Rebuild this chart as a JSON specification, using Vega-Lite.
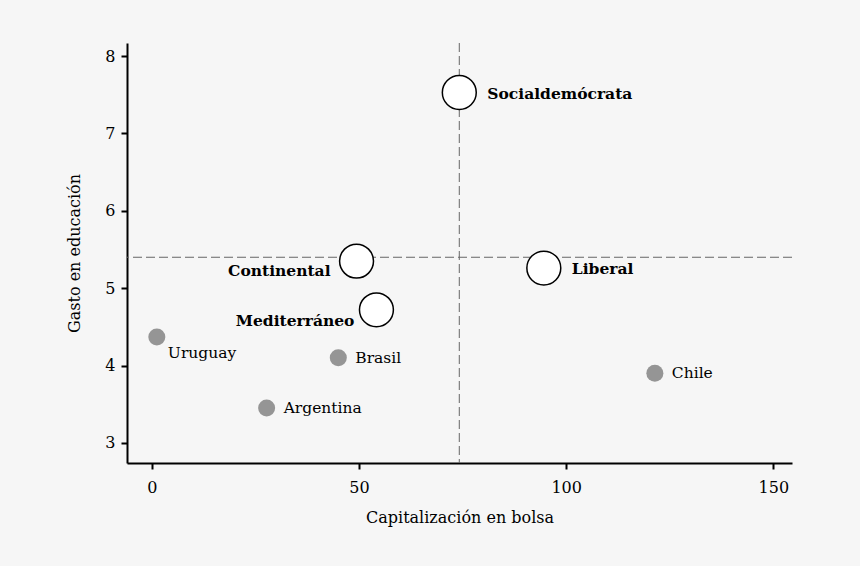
{
  "$schema": "https://vega.github.io/schema/vega-lite/v6.json",
  "width": 665,
  "height": 420,
  "autosize": {"type": "none"},
  "padding": {"left": 127, "top": 43, "right": 68, "bottom": 103},
  "background": "#f6f6f6",
  "config": {
    "view": {"stroke": null},
    "font": "DejaVu Serif",
    "axis": {
      "domainColor": "#000000",
      "domainWidth": 2,
      "tickColor": "#000000",
      "tickWidth": 2,
      "tickSize": 6,
      "grid": false,
      "labelFont": "DejaVu Serif",
      "labelFontSize": 16,
      "labelColor": "#000000",
      "titleFont": "DejaVu Serif",
      "titleFontSize": 16,
      "titleFontWeight": "normal",
      "titleColor": "#000000"
    }
  },
  "data": {
    "values": [
      {"nombre": "Socialdemócrata", "tipo": "régimen", "capitalizacion": 74.2, "gasto": 7.53},
      {"nombre": "Continental", "tipo": "régimen", "capitalizacion": 49.4, "gasto": 5.35},
      {"nombre": "Liberal", "tipo": "régimen", "capitalizacion": 94.6, "gasto": 5.26},
      {"nombre": "Mediterráneo", "tipo": "régimen", "capitalizacion": 54.2, "gasto": 4.72},
      {"nombre": "Uruguay", "tipo": "país", "capitalizacion": 1.2, "gasto": 4.37},
      {"nombre": "Brasil", "tipo": "país", "capitalizacion": 45.0, "gasto": 4.10},
      {"nombre": "Argentina", "tipo": "país", "capitalizacion": 27.7, "gasto": 3.45},
      {"nombre": "Chile", "tipo": "país", "capitalizacion": 121.4, "gasto": 3.90}
    ]
  },
  "encoding": {
    "x": {
      "field": "capitalizacion",
      "type": "quantitative",
      "scale": {"domain": [-6, 154.5], "nice": false, "zero": false},
      "axis": {"values": [0, 50, 100, 150], "title": "Capitalización en bolsa", "titlePadding": 14, "labelPadding": 10}
    },
    "y": {
      "field": "gasto",
      "type": "quantitative",
      "scale": {"domain": [2.74, 8.17], "nice": false, "zero": false},
      "axis": {"values": [3, 4, 5, 6, 7, 8], "title": "Gasto en educación", "titlePadding": 22, "labelPadding": 6}
    }
  },
  "layer": [
    {
      "data": {"values": [{"umbral": 74.2}]},
      "mark": {"type": "rule", "color": "#666666", "strokeWidth": 1, "strokeDash": [9, 4]},
      "encoding": {"x": {"field": "umbral", "type": "quantitative"}, "y": null}
    },
    {
      "data": {"values": [{"umbral": 5.40}]},
      "mark": {"type": "rule", "color": "#666666", "strokeWidth": 1, "strokeDash": [9, 4]},
      "encoding": {"y": {"field": "umbral", "type": "quantitative"}, "x": null}
    },
    {
      "transform": [{"filter": "datum.tipo === 'país'"}],
      "mark": {"type": "circle", "size": 290, "color": "#959595", "opacity": 1}
    },
    {
      "transform": [{"filter": "datum.tipo === 'régimen'"}],
      "mark": {"type": "point", "shape": "circle", "size": 1150, "filled": true, "fill": "#ffffff", "stroke": "#000000", "strokeWidth": 1.5, "opacity": 1}
    },
    {
      "transform": [{"filter": "datum.nombre === 'Socialdemócrata' || datum.nombre === 'Liberal'"}],
      "mark": {"type": "text", "align": "left", "baseline": "middle", "dx": 28, "dy": 1, "fontWeight": "bold", "fontSize": 15.5, "color": "#000000"},
      "encoding": {"text": {"field": "nombre"}}
    },
    {
      "transform": [{"filter": "datum.nombre === 'Continental'"}],
      "mark": {"type": "text", "align": "right", "baseline": "middle", "dx": -26, "dy": 10, "fontWeight": "bold", "fontSize": 15.5, "color": "#000000"},
      "encoding": {"text": {"field": "nombre"}}
    },
    {
      "transform": [{"filter": "datum.nombre === 'Mediterráneo'"}],
      "mark": {"type": "text", "align": "right", "baseline": "middle", "dx": -22, "dy": 11, "fontWeight": "bold", "fontSize": 15.5, "color": "#000000"},
      "encoding": {"text": {"field": "nombre"}}
    },
    {
      "transform": [{"filter": "datum.nombre === 'Brasil' || datum.nombre === 'Argentina' || datum.nombre === 'Chile'"}],
      "mark": {"type": "text", "align": "left", "baseline": "middle", "dx": 17, "dy": 0, "fontSize": 15.5, "color": "#000000"},
      "encoding": {"text": {"field": "nombre"}}
    },
    {
      "transform": [{"filter": "datum.nombre === 'Uruguay'"}],
      "mark": {"type": "text", "align": "left", "baseline": "middle", "dx": 11, "dy": 16, "fontSize": 15.5, "color": "#000000"},
      "encoding": {"text": {"field": "nombre"}}
    }
  ]
}
